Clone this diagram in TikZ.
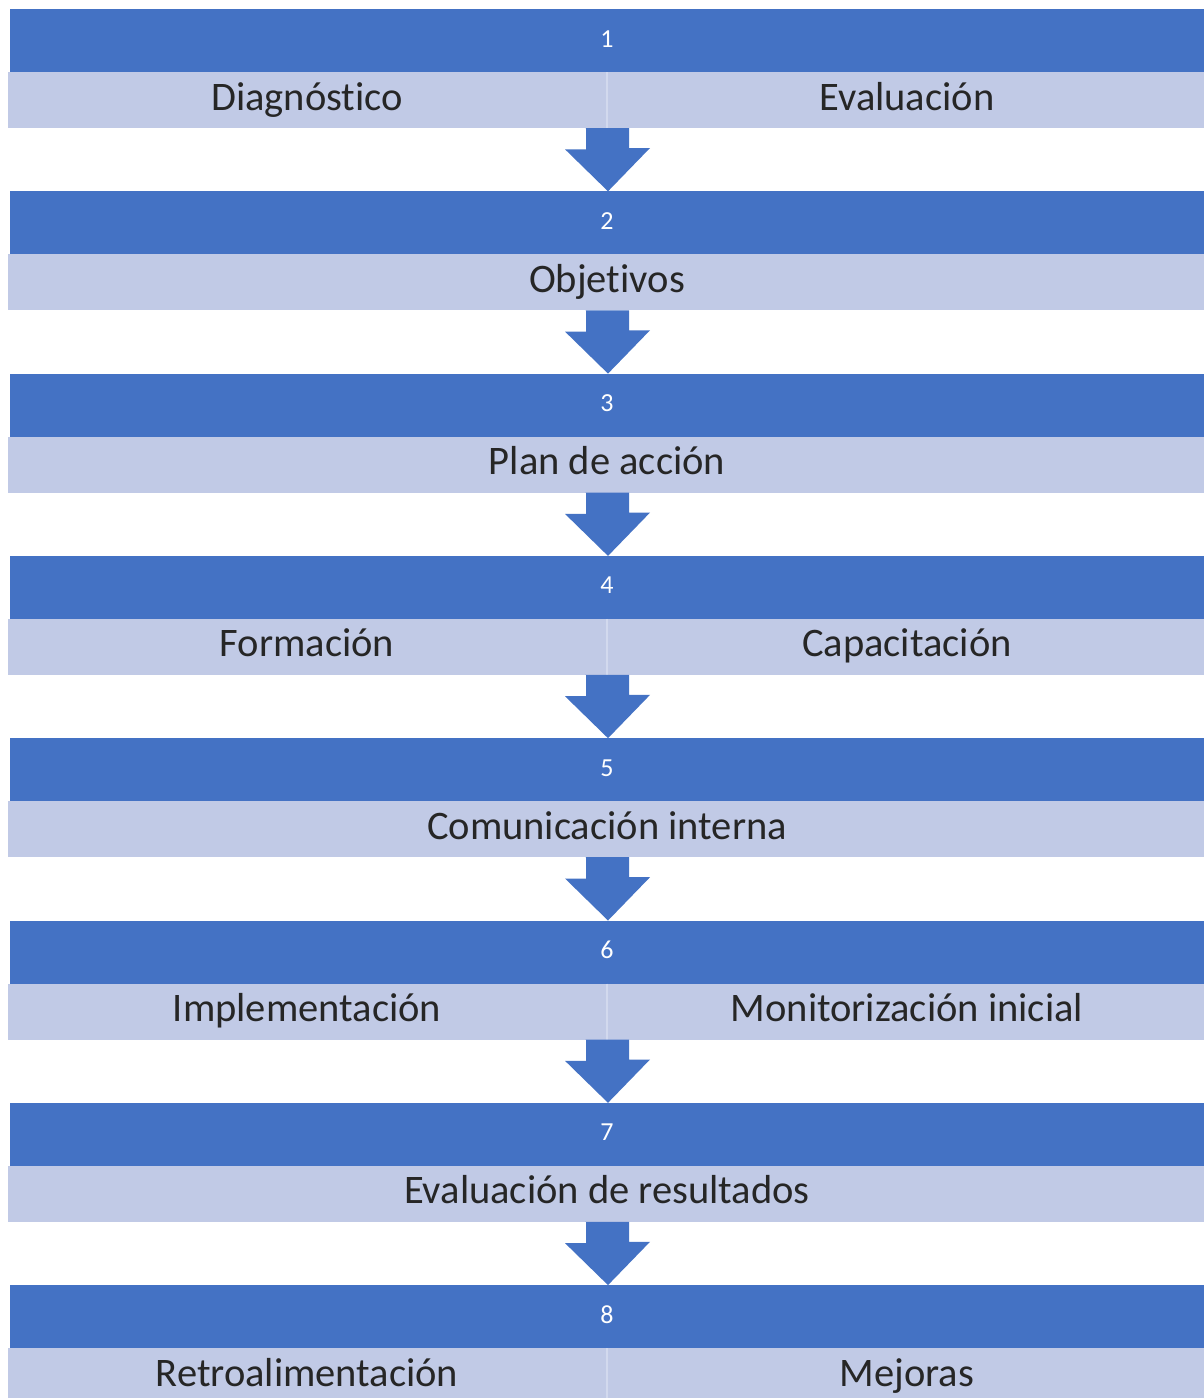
\documentclass[tikz,border=0pt]{standalone}
\usepackage{fontspec}
\setmainfont[Ligatures=NoCommon]{Carlito}
\definecolor{dk}{HTML}{4472C4}
\definecolor{lt}{HTML}{C1CAE6}
\definecolor{dv}{HTML}{D2D9EE}
\definecolor{tx}{HTML}{262626}
\begin{document}
\begin{tikzpicture}[x=1pt,y=-1pt,
  darkbar/.style={fill=dk,draw=none,minimum width=1194pt,minimum height=63pt,inner sep=0pt,outer sep=0pt,anchor=north west},
  lightbar/.style={fill=lt,draw=none,minimum width=1196pt,minimum height=56pt,inner sep=0pt,outer sep=0pt,anchor=north west},
  numtxt/.style={text=white,font=\fontsize{26}{30}\selectfont,inner sep=0pt,anchor=base},
  lbl/.style={text=tx,font=\fontsize{40.5}{48}\selectfont,inner sep=0pt,anchor=base},
  divline/.style={draw=dv,line width=1.5pt},
  blockarrow/.style={fill=dk,draw=none}
]
\useasboundingbox[fill=white] (0,0) rectangle (1204,1398);
% blocks
\foreach \i/\y in {1/9,2/191.3,3/373.6,4/555.9,5/738.2,6/920.5,7/1102.8,8/1285.1}{
  \node[darkbar] (d\i) at (10,\y) {};
  \node[lightbar] (l\i) at (8,\y+63) {};
  \node[numtxt] (n\i) at (607,\y+38) {\i};
}
% dividers
\foreach \i in {1,4,6,8}{
  \draw[divline] ([xshift=1pt]l\i.north) -- ([xshift=1pt]l\i.south);
}
% labels (base line)
\node[lbl] (t1a) at (307,110) {Diagnóstico};
\node[lbl] (t1b) at (907,110) {Evaluación};
\node[lbl] (t2) at (607,292.3) {Objetivos};
\node[lbl] (t3) at (607,474.6) {Plan de acción};
\node[lbl] (t4a) at (307,656.9) {Formación};
\node[lbl] (t4b) at (907,656.9) {Capacitación};
\node[lbl] (t5) at (607,839.2) {Comunicación interna};
\node[lbl] (t6a) at (307,1021.5) {Implementación};
\node[lbl] (t6b) at (907,1021.5) {Monitorización inicial};
\node[lbl] (t7) at (607,1203.8) {Evaluación de resultados};
\node[lbl] (t8a) at (307,1386.1) {Retroalimentación};
\node[lbl] (t8b) at (907,1386.1) {Mejoras};
% arrows
\foreach \a/\b in {1/2,2/3,3/4,4/5,5/6,6/7,7/8}{
  \fill[blockarrow] ([xshift=1pt]d\b.north) -- ++(-43,-42) -- ++(21,0) |- ([xshift=-21pt]l\a.south) -- ++(44,0) -- ++(0,20) -- ++(21,0) -- cycle;
}
\end{tikzpicture}
\end{document}
